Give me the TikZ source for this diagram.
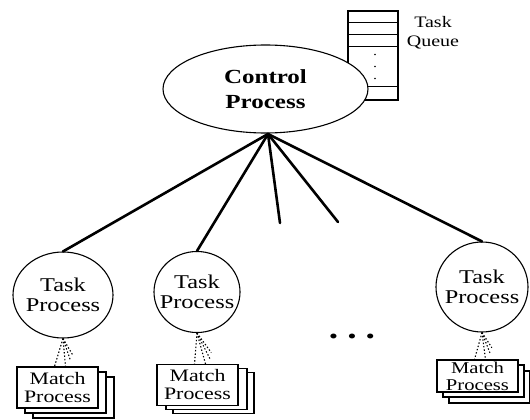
\documentclass[tikz,border=0pt]{standalone}
\usepackage{fontspec}
\setmainfont[FakeStretch=1.25]{Liberation Serif}
\usetikzlibrary{shapes.geometric,calc}

\begin{document}
\begin{tikzpicture}[x=1pt, y=-1pt,
  spoke/.style={line width=2.6pt, line cap=round},
  taskproc/.style={draw, ellipse, line width=1.1pt, fill=white, align=center, inner ysep=0pt, inner xsep=-9pt,
    font=\fontsize{19.5}{20}\selectfont},
  matchbox/.style={draw, line width=1.1pt, fill=white, align=center, inner sep=1pt,
    minimum width=81pt, minimum height=41pt, font=\fontsize{17.5}{18}\selectfont},
  fan/.style={line width=1.1pt, dash pattern=on 1.4pt off 2pt}]
  \useasboundingbox (0,0) rectangle (530,420);

  % task queue
  \node[draw, line width=1.1pt, minimum width=50pt, minimum height=89pt, inner sep=0pt] (queue) at (373,55.5) {};
  \foreach \yy in {12,24,36,76}
    \draw[line width=1.1pt] ($(queue.north west)+(0,\yy)$) -- ($(queue.north east)+(0,\yy)$);
  \foreach \yy in {44,56,68}
    \fill ($(queue.north)+(2,\yy)$) circle (0.9pt);
  \node[align=center, font=\fontsize{16}{19}\selectfont] (qlabel) at (433,33) {Task\\Queue};

  % control process
  \node[draw, ellipse, line width=1.1pt, fill=white, minimum width=205pt, minimum height=88pt, inner sep=0pt,
    align=center, font=\fontsize{20}{25}\bfseries] (ctrl) at (265.5,89) {Control\\Process};
  \coordinate (hub) at (268,134);

  % task processes
  \node[taskproc, minimum width=100pt, minimum height=86pt] (tp1) at (63,295) {Task\\Process};
  \node[taskproc, minimum width=86pt, minimum height=81pt] (tp2) at (197,292) {Task\\Process};
  \node[taskproc, minimum width=92pt, minimum height=90pt] (tp3) at (482,287) {Task\\Process};

  \coordinate (end1) at (280,223);
  \coordinate (end2) at (338,222);
  \draw[spoke] (hub) -- (tp1.north);
  \draw[spoke] (hub) -- (tp2.north);
  \draw[spoke] (hub) -- (end1);
  \draw[spoke] (hub) -- (end2);
  \draw[spoke] (hub) -- (tp3.north);

  \node[font=\fontsize{30}{30}\bfseries] (dots) at (352,336) {.\hspace{9pt}.\hspace{9pt}.};

  % match process stacks
  \node[matchbox] (mp1c) at (73.5,397.5) {};
  \node[matchbox] (mp1b) at (65.5,392.5) {};
  \node[matchbox] (mp1) at (57.5,387.5) {Match\\Process};
  \node[matchbox] (mp2c) at (213.5,393) {};
  \node[matchbox] (mp2b) at (206.5,389) {};
  \node[matchbox] (mp2) at (197.5,385) {Match\\Process};
  \node[matchbox, minimum height=32pt, font=\fontsize{16.5}{17}\selectfont] (mp3c) at (489.5,387) {};
  \node[matchbox, minimum height=32pt, font=\fontsize{16.5}{17}\selectfont] (mp3b) at (483.5,381) {};
  \node[matchbox, minimum height=32pt, font=\fontsize{16.5}{17}\selectfont] (mp3) at (477.5,376) {Match\\Process};

  \foreach \dx/\sh in {-3/0, 8/0, 15/6, 22/14} {
    \draw[fan, shorten >=\sh pt] (tp1.south) -- ([xshift=\dx pt]mp1.north);
    \draw[fan, shorten >=\sh pt] (tp2.south) -- ([xshift=\dx pt]mp2.north);
    \draw[fan, shorten >=\sh pt] (tp3.south) -- ([xshift=\dx pt]mp3.north);
  }
\end{tikzpicture}
\end{document}
